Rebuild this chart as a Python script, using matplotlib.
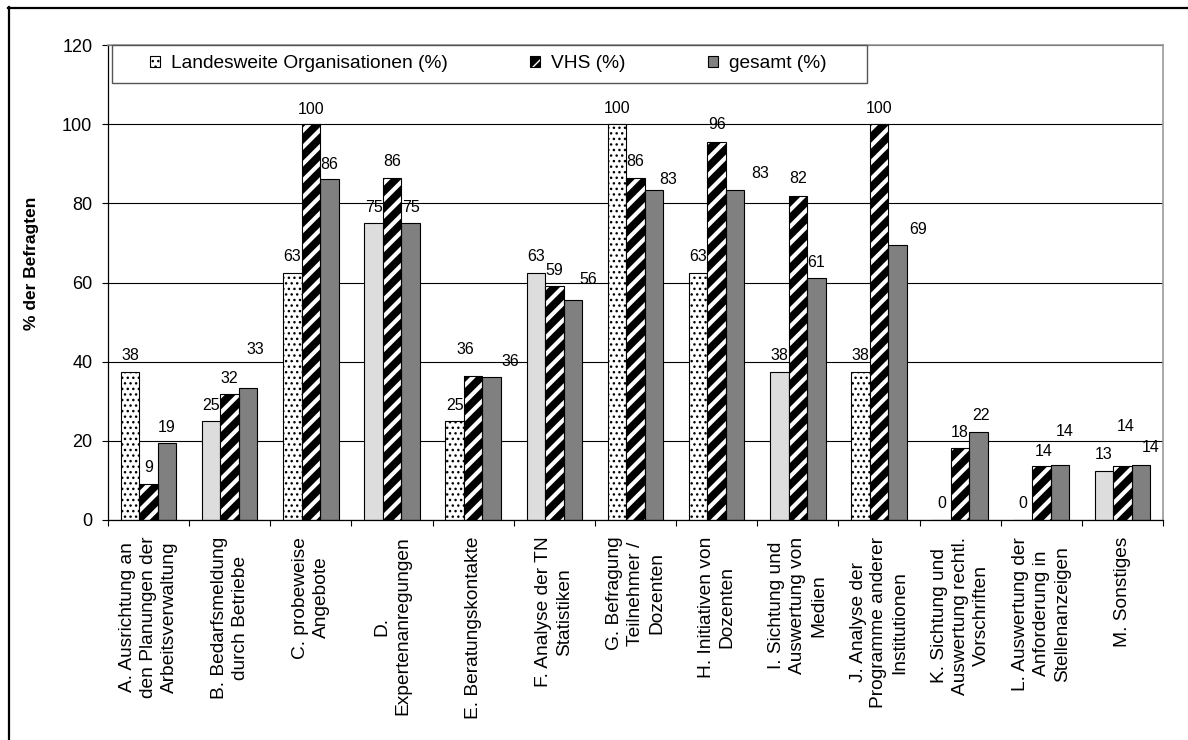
import numpy as np
import matplotlib.pyplot as plt
from matplotlib.patches import Patch, Rectangle
from matplotlib.lines import Line2D

plt.rcParams['font.family'] = ['Liberation Sans', 'DejaVu Sans']

categories = [
    "A. Ausrichtung an\nden Planungen der\nArbeitsverwaltung",
    "B. Bedarfsmeldung\ndurch Betriebe",
    "C. probeweise\nAngebote",
    "D.\nExpertenanregungen",
    "E. Beratungskontakte",
    "F. Analyse der TN\nStatistiken",
    "G. Befragung\nTeilnehmer /\nDozenten",
    "H. Initiativen von\nDozenten",
    "I. Sichtung und\nAuswertung von\nMedien",
    "J. Analyse der\nProgramme anderer\nInstitutionen",
    "K. Sichtung und\nAuswertung rechtl.\nVorschriften",
    "L. Auswertung der\nAnforderung in\nStellenanzeigen",
    "M. Sonstiges",
]
landesweit = [37.5, 25, 62.5, 75, 25, 62.5, 100, 62.5, 37.5, 37.5, 0, 0, 12.5]
vhs = [9.1, 31.8, 100, 86.4, 36.4, 59.1, 86.4, 95.5, 81.8, 100, 18.2, 13.6, 13.6]
gesamt = [19.4, 33.3, 86.1, 75.0, 36.1, 55.6, 83.3, 83.3, 61.1, 69.4, 22.2, 13.9, 13.9]
series_names = ["Landesweite Organisationen (%)", "VHS (%)", "gesamt (%)"]

# the first series is dotted in some groups and plain light grey in others
dotted = [True, False, True, False, True, False, True, True, False, True, True, True, False]

# data label shifts (pixels) as placed in the original
lab1_dx = [0] * 13
lab1_dy = [17] * 13
lab2_dx = [0, 0, 0, 0, -8, 0, 0, 0, 0, 0, 0, 2, 3]
lab2_dy = [17, 17, 16, 17, 27, 17, 17, 18, 19, 17, 16, 16, 41]
lab3_dx = [0, 7, 0, 0, 19, 15, 14, 25, 0, 21, 2, 5, 10]
lab3_dy = [17, 40, 16, 17, 17, 21, 12, 18, 17, 17, 18, 34, 18]

W, H = 1188, 740
fig = plt.figure(figsize=(W / 100, H / 100), dpi=100)
ax = fig.add_axes([108 / W, 1 - 520 / H, (1163 - 108) / W, (520 - 45) / H])

x = np.arange(len(categories))
bw = 0.228

# series 1
for i, v in enumerate(landesweit):
    if dotted[i]:
        ax.bar(x[i] - bw, v, bw, facecolor='white', edgecolor='black',
               hatch='...', linewidth=0.8, zorder=2)
    else:
        ax.bar(x[i] - bw, v, bw, facecolor='#dddddd', edgecolor='black',
               linewidth=0.8, zorder=2)

# series 2: black with white diagonal stripes
stripes = ax.bar(x, vhs, bw, facecolor='black', edgecolor='white',
                 hatch='//', linewidth=0, zorder=2)
for b in stripes:
    if hasattr(b, 'set_hatch_linewidth'):
        b.set_hatch_linewidth(3.0)
ax.bar(x, vhs, bw, fill=False, edgecolor='black', linewidth=0.8, zorder=3)

# series 3
ax.bar(x + bw, gesamt, bw, facecolor='#808080', edgecolor='black',
       linewidth=0.8, zorder=2)


def fmt(v):
    return str(int(v + 0.5))


for vals, off, dxs, dys in [(landesweit, -bw, lab1_dx, lab1_dy),
                            (vhs, 0, lab2_dx, lab2_dy),
                            (gesamt, bw, lab3_dx, lab3_dy)]:
    for i, v in enumerate(vals):
        ax.annotate(fmt(v), xy=(x[i] + off, v), xytext=(dxs[i], dys[i] - 5.5),
                    textcoords='offset pixels', ha='center', va='baseline',
                    fontsize=11.5, zorder=5)

ax.set_xlim(-0.5, len(categories) - 0.5)
ax.set_ylim(0, 120)
ax.set_yticks(np.arange(0, 121, 20))
ax.tick_params(axis='y', labelsize=13, length=4.3, width=0.8, pad=7)
ax.yaxis.grid(True, color='black', linewidth=0.8)
ax.set_axisbelow(True)

ax.set_xticks(np.arange(-0.5, len(categories), 1))
ax.set_xticklabels([])
ax.set_xticks(x, minor=True)
ax.set_xticklabels(categories, minor=True, rotation=90, ha='center', va='top',
                   multialignment='center', fontsize=13.8, linespacing=1.3)
ax.tick_params(axis='x', which='major', length=4.3, width=0.8)
ax.tick_params(axis='x', which='minor', length=0, pad=12)

for s in ['left', 'bottom']:
    ax.spines[s].set_color('black')
    ax.spines[s].set_linewidth(0.9)
for s in ['top', 'right']:
    ax.spines[s].set_color('#999999')
    ax.spines[s].set_linewidth(1.2)

fig.text(32 / W, 1 - 263 / H, '% der Befragten', rotation=90, ha='center',
         va='center', fontsize=12.5, fontweight='bold')

# legend box
box = Rectangle((112 / W, 1 - 83 / H), 755 / W, 38 / H, transform=fig.transFigure,
                facecolor='white', edgecolor='#555555', linewidth=1.0, zorder=10)
fig.add_artist(box)
h1 = Patch(facecolor='white', edgecolor='black', hatch='...', linewidth=0.8)
h2a = Patch(facecolor='black', edgecolor='white', hatch='//', linewidth=0)
h2b = Patch(fill=False, edgecolor='black', linewidth=0.8)
h3 = Patch(facecolor='#808080', edgecolor='black', linewidth=0.8)
leg = fig.legend([h1, (h2a, h2b), h3], series_names, loc='center',
                 bbox_to_anchor=((152 + 825) / 2 / W, 1 - 64 / H), ncol=3,
                 frameon=False, fontsize=13.8, handlelength=0.5, handleheight=0.5,
                 handletextpad=0.6, columnspacing=4.3)
leg.set_zorder(11)

# outer frame of the original picture
fig.add_artist(Line2D([8.5 / W, 8.5 / W], [0, 1 - 7 / H], transform=fig.transFigure,
                      color='black', linewidth=1.6))
fig.add_artist(Line2D([8 / W, 1], [1 - 7.5 / H, 1 - 7.5 / H], transform=fig.transFigure,
                      color='black', linewidth=1.6))

fig.savefig('out.png', dpi=100)
